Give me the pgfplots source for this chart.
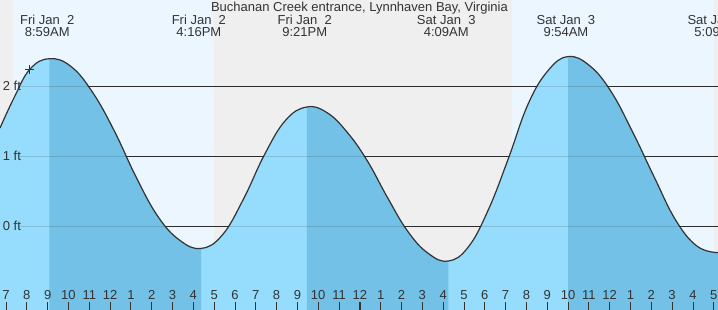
\documentclass[border=0pt]{standalone}
\usepackage{fontspec}
\setmainfont{Liberation Sans}
\usepackage{pgfplots}
\usepackage{pgfplotstable}
\pgfplotsset{compat=1.18}
\usepgfplotslibrary{fillbetween}
\definecolor{cgray}{RGB}{239,239,239}
\definecolor{cday}{RGB}{235,246,255}
\definecolor{clight}{RGB}{150,220,252}
\definecolor{cdark}{RGB}{115,193,230}
\definecolor{ctext}{RGB}{51,51,51}

\pgfplotstableread{
t h
6.712 1.40
7.40 1.84
8.15 2.24
9.08 2.39
10.12 2.28
11.16 1.91
12.20 1.36
13.25 0.70
14.29 0.14
15.33 -0.20
16.37 -0.32
17.39 -0.13
18.40 0.38
19.42 1.02
20.43 1.51
21.45 1.70
22.42 1.62
23.39 1.34
24.36 0.93
25.34 0.40
26.31 -0.08
27.28 -0.39
28.25 -0.50
29.21 -0.30
30.17 0.23
31.13 0.96
32.08 1.74
33.04 2.22
34.00 2.42
35.04 2.29
36.07 1.92
37.11 1.34
38.14 0.70
39.18 0.08
40.21 -0.29
41.206 -0.38
}\tide

\begin{document}
\begin{tikzpicture}
\begin{axis}[
  width=718pt, height=310pt, scale only axis,
  xmin=6.712, xmax=41.206, ymin=-1.2, ymax=3.229,
  set layers, axis on top,
  axis line style={draw=none},
  ytick=\empty,
  xtick={7,...,41},
  xticklabels={7,8,9,10,11,12,1,2,3,4,5,6,7,8,9,10,11,12,1,2,3,4,5,6,7,8,9,10,11,12,1,2,3,4,5},
  xtick pos=left,
  tick align=inside,
  major tick length=8pt,
  tick style={draw=ctext, line width=0.8pt},
  xticklabel style={anchor=base, yshift=10.3pt, font=\fontsize{13}{15}\selectfont, text=ctext},
  extra x ticks={24},
  extra x tick labels={},
  extra x tick style={tick style={line width=2.5pt}},
]
% background and day bands
\addplot[on layer=pre main, fill=cgray, draw=none] coordinates {(6.712,-1.2) (41.206,-1.2) (41.206,3.229) (6.712,3.229)} --cycle;
\addplot[on layer=pre main, fill=cday, draw=none] coordinates {(7.322,-1.2) (16.99,-1.2) (16.99,3.229) (7.322,3.229)} --cycle;
\addplot[on layer=pre main, fill=cday, draw=none] coordinates {(31.30,-1.2) (41.005,-1.2) (41.005,3.229) (31.30,3.229)} --cycle;
% grid lines
\addplot[on layer=pre main, draw=ctext, line width=0.8pt] coordinates {(7.673,0) (41.206,0)};
\addplot[on layer=pre main, draw=ctext, line width=0.8pt] coordinates {(7.673,1) (41.206,1)};
\addplot[on layer=pre main, draw=ctext, line width=0.8pt] coordinates {(7.673,2) (41.206,2)};
% curve and fills
\addplot[name path=bottom, draw=none] coordinates {(6.712,-1.2) (41.206,-1.2)};
\addplot[smooth, tension=0.7, name path=curve, draw=ctext, line width=1.2pt] table {\tide};
\addplot[fill=clight, draw=none] fill between[of=curve and bottom];
\addplot[fill=cdark, draw=none] fill between[of=curve and bottom, soft clip={domain=9.08:16.37}];
\addplot[fill=cdark, draw=none] fill between[of=curve and bottom, soft clip={domain=21.45:28.25}];
\addplot[fill=cdark, draw=none] fill between[of=curve and bottom, soft clip={domain=34.00:41.206}];
% faint grid over fills
\addplot[draw=black, opacity=0.13, line width=0.8pt] coordinates {(7.673,0) (41.206,0)};
\addplot[draw=black, opacity=0.13, line width=0.8pt] coordinates {(7.673,1) (41.206,1)};
\addplot[draw=black, opacity=0.13, line width=0.8pt] coordinates {(7.673,2) (41.206,2)};
% current time marker
\addplot[only marks, mark=+, mark size=4.5pt, draw=ctext, line width=0.9pt] coordinates {(8.15,2.24)};
% labels
\tikzset{lab/.style={anchor=base, font=\fontsize{13}{15}\selectfont, text=ctext, inner sep=0pt}}
\node[lab] at (axis cs:23.98,3.071) {Buchanan Creek entrance, Lynnhaven Bay, Virginia};
\node[lab] at (axis cs:8.983,2.886) {Fri Jan\ \ 2};
\node[lab] at (axis cs:8.983,2.714) {8:59AM};
\node[lab] at (axis cs:16.267,2.886) {Fri Jan\ \ 2};
\node[lab] at (axis cs:16.267,2.714) {4:16PM};
\node[lab] at (axis cs:21.35,2.886) {Fri Jan\ \ 2};
\node[lab] at (axis cs:21.35,2.714) {9:21PM};
\node[lab] at (axis cs:28.15,2.886) {Sat Jan\ \ 3};
\node[lab] at (axis cs:28.15,2.714) {4:09AM};
\node[lab] at (axis cs:33.9,2.886) {Sat Jan\ \ 3};
\node[lab] at (axis cs:33.9,2.714) {9:54AM};
\node[lab] at (axis cs:41.15,2.886) {Sat Jan\ \ 3};
\node[lab] at (axis cs:41.15,2.714) {5:09PM};
\node[lab, anchor=base west, xshift=2.7pt, yshift=-4.7pt] at (axis cs:6.712,2) {2 ft};
\node[lab, anchor=base west, xshift=2.7pt, yshift=-4.7pt] at (axis cs:6.712,1) {1 ft};
\node[lab, anchor=base west, xshift=2.7pt, yshift=-4.7pt] at (axis cs:6.712,0) {0 ft};
\end{axis}
\pgfresetboundingbox
\useasboundingbox (current axis.south west) rectangle (current axis.north east);
\end{tikzpicture}
\end{document}
